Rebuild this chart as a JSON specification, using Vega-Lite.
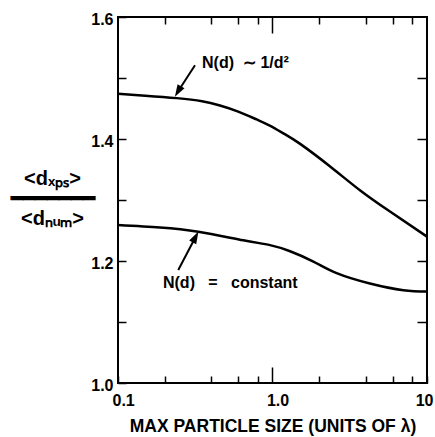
{
  "$schema": "https://vega.github.io/schema/vega-lite/v6.json",
  "width": 309,
  "height": 366,
  "autosize": {"type": "none"},
  "padding": {"left": 118, "top": 17, "right": 8, "bottom": 54},
  "background": "white",
  "config": {
    "view": {"stroke": "black", "strokeWidth": 2},
    "font": "Liberation Sans",
    "axis": {"domain": false, "grid": false, "tickColor": "black", "tickWidth": 1.5, "labelColor": "black", "titleColor": "black", "labelFont": "Liberation Sans", "titleFont": "Liberation Sans", "labelFontWeight": "bold", "titleFontWeight": "bold", "labelFontSize": 16, "titleFontSize": 17.5}
  },
  "datasets": {
    "curves": [
      {"d": 0.1, "r": 1.474, "s": "inv"},
      {"d": 0.15, "r": 1.471, "s": "inv"},
      {"d": 0.24, "r": 1.467, "s": "inv"},
      {"d": 0.35, "r": 1.462, "s": "inv"},
      {"d": 0.457, "r": 1.455, "s": "inv"},
      {"d": 0.6, "r": 1.445, "s": "inv"},
      {"d": 0.79, "r": 1.432, "s": "inv"},
      {"d": 0.96, "r": 1.422, "s": "inv"},
      {"d": 1.2, "r": 1.408, "s": "inv"},
      {"d": 1.51, "r": 1.392, "s": "inv"},
      {"d": 2.36, "r": 1.355, "s": "inv"},
      {"d": 3.68, "r": 1.316, "s": "inv"},
      {"d": 5.76, "r": 1.281, "s": "inv"},
      {"d": 10, "r": 1.240, "s": "inv"},
      {"d": 0.1, "r": 1.259, "s": "const"},
      {"d": 0.187, "r": 1.255, "s": "const"},
      {"d": 0.331, "r": 1.248, "s": "const"},
      {"d": 0.647, "r": 1.234, "s": "const"},
      {"d": 0.964, "r": 1.226, "s": "const"},
      {"d": 1.30, "r": 1.216, "s": "const"},
      {"d": 1.84, "r": 1.199, "s": "const"},
      {"d": 2.60, "r": 1.180, "s": "const"},
      {"d": 4.27, "r": 1.163, "s": "const"},
      {"d": 7.03, "r": 1.152, "s": "const"},
      {"d": 10, "r": 1.150, "s": "const"}
    ],
    "arrows": [
      {"d": 0.315, "r": 1.521, "d2": 0.2444, "r2": 1.4779},
      {"d": 0.2455, "r": 1.1852, "d2": 0.3177, "r2": 1.2393}
    ],
    "heads": [
      {"d": 0.2444, "r": 1.4779, "a": 210},
      {"d": 0.3177, "r": 1.2393, "a": 28}
    ],
    "labels": [
      {"d": 0.35, "r": 1.525, "t": "N(d)\u00a0\u00a0∼\u00a01/d²"},
      {"d": 0.1955, "r": 1.164, "t": "N(d)\u00a0\u00a0\u00a0=\u00a0\u00a0\u00a0constant"}
    ]
  },
  "resolve": {"axis": {"x": "independent", "y": "independent"}},
  "layer": [
    {
      "data": {"name": "curves"},
      "mark": {"type": "line", "color": "black", "strokeWidth": 2.5, "interpolate": "natural"},
      "encoding": {
        "x": {"field": "d", "type": "quantitative", "scale": {"type": "log", "domain": [0.1, 10], "nice": false},
          "axis": {"orient": "bottom", "values": [0.1, 0.2, 0.4, 0.6, 0.8, 1, 2, 4, 6, 8, 10],
            "tickSize": {"condition": {"test": "datum.value == 1", "value": -16}, "value": -7},
            "labelPadding": {"condition": {"test": "datum.value == 1", "value": 25}, "value": 16},
            "labelOffset": {"condition": {"test": "datum.value == 1", "value": 5}, "value": 0},
            "labelExpr": "datum.value == 0.1 ? '0.1' : (datum.value == 1 ? '1.0' : (datum.value == 10 ? '10' : ''))",
            "labelFlush": true, "labelFlushOffset": 6,
            "title": "MAX PARTICLE SIZE (UNITS OF λ)", "titlePadding": 9}},
        "y": {"field": "r", "type": "quantitative", "scale": {"domain": [1.0, 1.6], "nice": false, "zero": false},
          "axis": {"orient": "left", "values": [1.0, 1.1, 1.2, 1.3, 1.4, 1.5, 1.6], "tickSize": -8,
            "labelExpr": "round(datum.value*10) % 2 == 0 ? format(datum.value, '.1f') : ''",
            "labelPadding": 13, "labelOffset": 2,
            "title": ["<dₓₚₛ>", "━━━━━━━", "<dₙᵤₘ>"], "titleAngle": 0, "titleAlign": "center", "titleBaseline": "middle",
            "titleFontSize": 20, "titleLineHeight": 20, "titleX": -66, "titleY": 161}},
        "detail": {"field": "s"}
      }
    },
    {
      "data": {"name": "arrows"},
      "mark": {"type": "rule", "color": "black", "strokeWidth": 2},
      "encoding": {
        "x": {"field": "d", "type": "quantitative",
          "axis": {"orient": "top", "values": [0.2, 0.4, 0.6, 0.8, 1, 2, 4, 6, 8],
            "tickSize": {"condition": {"test": "datum.value == 1", "value": -16}, "value": -7},
            "labels": false, "title": null}},
        "y": {"field": "r", "type": "quantitative",
          "axis": {"orient": "right", "values": [1.1, 1.2, 1.3, 1.4, 1.5], "tickSize": -10, "labels": false, "title": null}},
        "x2": {"field": "d2"},
        "y2": {"field": "r2"}
      }
    },
    {
      "data": {"name": "heads"},
      "mark": {"type": "point", "shape": "M0,-1L0.65,1L-0.65,1Z", "filled": true, "color": "black", "opacity": 1, "size": 150},
      "encoding": {
        "x": {"field": "d", "type": "quantitative", "axis": null},
        "y": {"field": "r", "type": "quantitative", "axis": null},
        "angle": {"field": "a", "type": "quantitative", "scale": null}
      }
    },
    {
      "data": {"name": "labels"},
      "mark": {"type": "text", "align": "left", "baseline": "middle", "fontSize": 16, "fontWeight": "bold", "font": "Liberation Sans", "color": "black"},
      "encoding": {
        "x": {"field": "d", "type": "quantitative", "axis": null},
        "y": {"field": "r", "type": "quantitative", "axis": null},
        "text": {"field": "t"}
      }
    }
  ]
}
